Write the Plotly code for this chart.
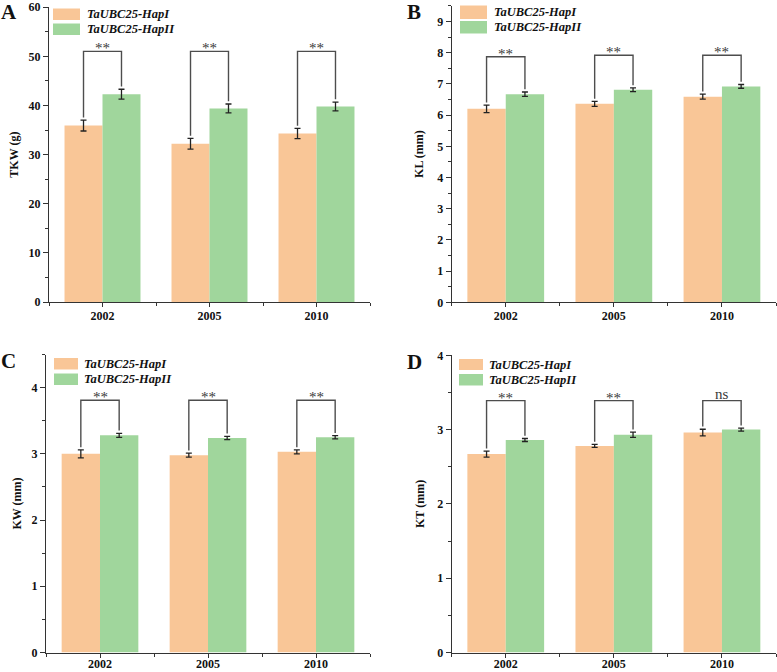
import plotly.graph_objects as go

# ---------------- data ----------------
years = ["2002", "2005", "2010"]
series_names = ["TaUBC25-HapI", "TaUBC25-HapII"]

tkw_hapI = [35.9, 32.2, 34.3]
tkw_hapI_err = [1.1, 1.1, 1.05]
tkw_hapII = [42.3, 39.4, 39.8]
tkw_hapII_err = [1.0, 0.9, 0.9]
tkw_sig = ["**", "**", "**"]
tkw_bracket = [51.0, 51.0, 51.0]

kl_hapI = [6.2, 6.36, 6.59]
kl_hapI_err = [0.12, 0.08, 0.08]
kl_hapII = [6.67, 6.81, 6.92]
kl_hapII_err = [0.07, 0.06, 0.06]
kl_sig = ["**", "**", "**"]
kl_bracket = [7.87, 7.92, 7.92]

kw_hapI = [3.0, 2.98, 3.03]
kw_hapI_err = [0.06, 0.03, 0.03]
kw_hapII = [3.28, 3.24, 3.25]
kw_hapII_err = [0.03, 0.025, 0.025]
kw_sig = ["**", "**", "**"]
kw_bracket = [3.81, 3.81, 3.81]

kt_hapI = [2.67, 2.78, 2.96]
kt_hapI_err = [0.04, 0.02, 0.045]
kt_hapII = [2.86, 2.93, 3.0]
kt_hapII_err = [0.02, 0.035, 0.02]
kt_sig = ["**", "**", "ns"]
kt_bracket = [3.39, 3.39, 3.39]

# ---------------- style ----------------
W, H = 777, 672
ORANGE = "#F9C697"
GREEN = "#A0D69C"
AXIS_C = "#333333"
FONT = "Liberation Serif"
BARGAP = 0.29
half = (1 - BARGAP) / 4  # offset of each bar centre from category centre


def fx(px):
    return px / W


def fy(py):
    return 1 - py / H


panels = [
    dict(letter="A", title="TKW (g)", a=tkw_hapI, ae=tkw_hapI_err, b=tkw_hapII, be=tkw_hapII_err,
         sig=tkw_sig, br=tkw_bracket, rng=[0, 60], dtick=10, minor=5,
         px=[49, 370], py=[7.2, 302], standoff=7, xstand=-2,
         leg=dict(x0=53, x1=80, r1=(8.5, 20), r2=(23.5, 35), tx=85),
         lab=(9, 12)),
    dict(letter="B", title="KL (mm)", a=kl_hapI, ae=kl_hapI_err, b=kl_hapII, be=kl_hapII_err,
         sig=kl_sig, br=kl_bracket, rng=[0, 9.5], dtick=1, minor=0.5,
         px=[451.7, 776], py=[5.9, 302.3], standoff=10, xstand=-2,
         leg=dict(x0=460, x1=487, r1=(5.5, 19), r2=(21, 33.5), tx=492),
         lab=(414, 12)),
    dict(letter="C", title="KW (mm)", a=kw_hapI, ae=kw_hapI_err, b=kw_hapII, be=kw_hapII_err,
         sig=kw_sig, br=kw_bracket, rng=[0, 4.5], dtick=1, minor=0.5,
         px=[46, 370], py=[354.5, 652.5], standoff=7, xstand=-4,
         leg=dict(x0=54, x1=78, r1=(358, 369.5), r2=(373.5, 385), tx=82),
         lab=(8, 361)),
    dict(letter="D", title="KT (mm)", a=kt_hapI, ae=kt_hapI_err, b=kt_hapII, be=kt_hapII_err,
         sig=kt_sig, br=kt_bracket, rng=[0, 4], dtick=1, minor=0.5,
         px=[451.7, 776], py=[355.3, 652.5], standoff=9, xstand=-4,
         leg=dict(x0=459, x1=483, r1=(359, 370), r2=(374, 385.5), tx=487),
         lab=(414, 362)),
]

fig = go.Figure()
shapes = []
annotations = []
xpos = list(range(len(years)))

for i, p in enumerate(panels):
    sfx = "" if i == 0 else str(i + 1)
    xa, ya = "x" + sfx, "y" + sfx
    fig.add_trace(go.Bar(
        x=xpos, y=p["a"], name=series_names[0], marker=dict(color=ORANGE, line=dict(width=0)),
        error_y=dict(type="data", array=p["ae"], color="#222222", thickness=1.3, width=3),
        xaxis=xa, yaxis=ya, showlegend=False, offsetgroup="1"))
    fig.add_trace(go.Bar(
        x=xpos, y=p["b"], name=series_names[1], marker=dict(color=GREEN, line=dict(width=0)),
        error_y=dict(type="data", array=p["be"], color="#222222", thickness=1.3, width=3),
        xaxis=xa, yaxis=ya, showlegend=False, offsetgroup="2"))

    gap = (p["rng"][1] - p["rng"][0]) * 0.009
    for k in range(len(years)):
        xl, xr = xpos[k] - half, xpos[k] + half
        yl = p["a"][k] + p["ae"][k] + gap
        yr = p["b"][k] + p["be"][k] + gap
        yb = p["br"][k]
        fig.add_trace(go.Scatter(
            x=[xl, xl, xr, xr], y=[yl, yb, yb, yr], mode="lines",
            line=dict(color="#4d4d4d", width=1.4), xaxis=xa, yaxis=ya,
            showlegend=False, hoverinfo="skip"))
        annotations.append(dict(
            x=xpos[k], y=yb, xref=xa, yref=ya, text=p["sig"][k], showarrow=False,
            yanchor="bottom", yshift=-7 if p["sig"][k] == "**" else -3,
            font=dict(family=FONT, size=15, color="#3a3a3a")))

    # layout axes
    xdom = [fx(p["px"][0]), fx(p["px"][1])]
    ydom = [fy(p["py"][1]), fy(p["py"][0])]
    fig.layout["xaxis" + sfx] = dict(
        domain=xdom, range=[-0.5, 2.5], anchor=ya, tickmode="array", tickvals=xpos,
        ticktext=years, showgrid=False, zeroline=False, showline=True, linecolor=AXIS_C,
        linewidth=1.3, ticks="outside", ticklen=4, tickwidth=1.2, tickcolor=AXIS_C,
        ticklabelstandoff=p["xstand"],
        tickfont=dict(family=FONT, size=12, color="#111111", weight="bold"),
        minor=dict(tickmode="array", tickvals=[-0.5, 0.5, 1.5, 2.5], ticks="outside",
                   ticklen=3, tickwidth=1, tickcolor=AXIS_C, showgrid=False),
        automargin=False, fixedrange=True)
    fig.layout["yaxis" + sfx] = dict(
        domain=ydom, range=p["rng"], anchor=xa, dtick=p["dtick"], tick0=0,
        showgrid=False, zeroline=False, showline=True, linecolor=AXIS_C, linewidth=1.3,
        ticks="outside", ticklen=5, tickwidth=1.2, tickcolor=AXIS_C,
        tickfont=dict(family=FONT, size=12, color="#111111", weight="bold"),
        minor=dict(dtick=p["minor"], tick0=0, ticks="outside", ticklen=3, tickwidth=1,
                   tickcolor=AXIS_C, showgrid=False),
        title=dict(text=p["title"], standoff=p["standoff"],
                   font=dict(family=FONT, size=12, color="#111111", weight="bold")),
        automargin=False, fixedrange=True)

    # manual legend
    lg = p["leg"]
    for (r, col, nm) in [(lg["r1"], ORANGE, series_names[0]), (lg["r2"], GREEN, series_names[1])]:
        shapes.append(dict(type="rect", xref="paper", yref="paper",
                           x0=fx(lg["x0"]), x1=fx(lg["x1"]), y0=fy(r[1]), y1=fy(r[0]),
                           fillcolor=col, line=dict(width=0)))
        annotations.append(dict(
            x=fx(lg["tx"]), y=fy((r[0] + r[1]) / 2), xref="paper", yref="paper",
            text=nm, showarrow=False, xanchor="left", yanchor="middle",
            font=dict(family=FONT, size=12.5, color="#111111", weight="bold", style="italic")))

    # panel letter
    annotations.append(dict(
        x=fx(p["lab"][0]), y=fy(p["lab"][1]), xref="paper", yref="paper",
        text=p["letter"], showarrow=False, xanchor="center", yanchor="middle",
        font=dict(family=FONT, size=21, color="#111111", weight="bold")))

fig.update_layout(
    width=W, height=H, margin=dict(l=0, r=0, t=0, b=0, autoexpand=False),
    paper_bgcolor="white", plot_bgcolor="white", template="none",
    barmode="group", bargap=BARGAP, bargroupgap=0,
    shapes=shapes, annotations=annotations, showlegend=False,
)

fig.write_html(
    "out.html",
    config={"displayModeBar": False},
    post_script="document.body.style.margin='0px';document.body.style.overflow='hidden';",
)
